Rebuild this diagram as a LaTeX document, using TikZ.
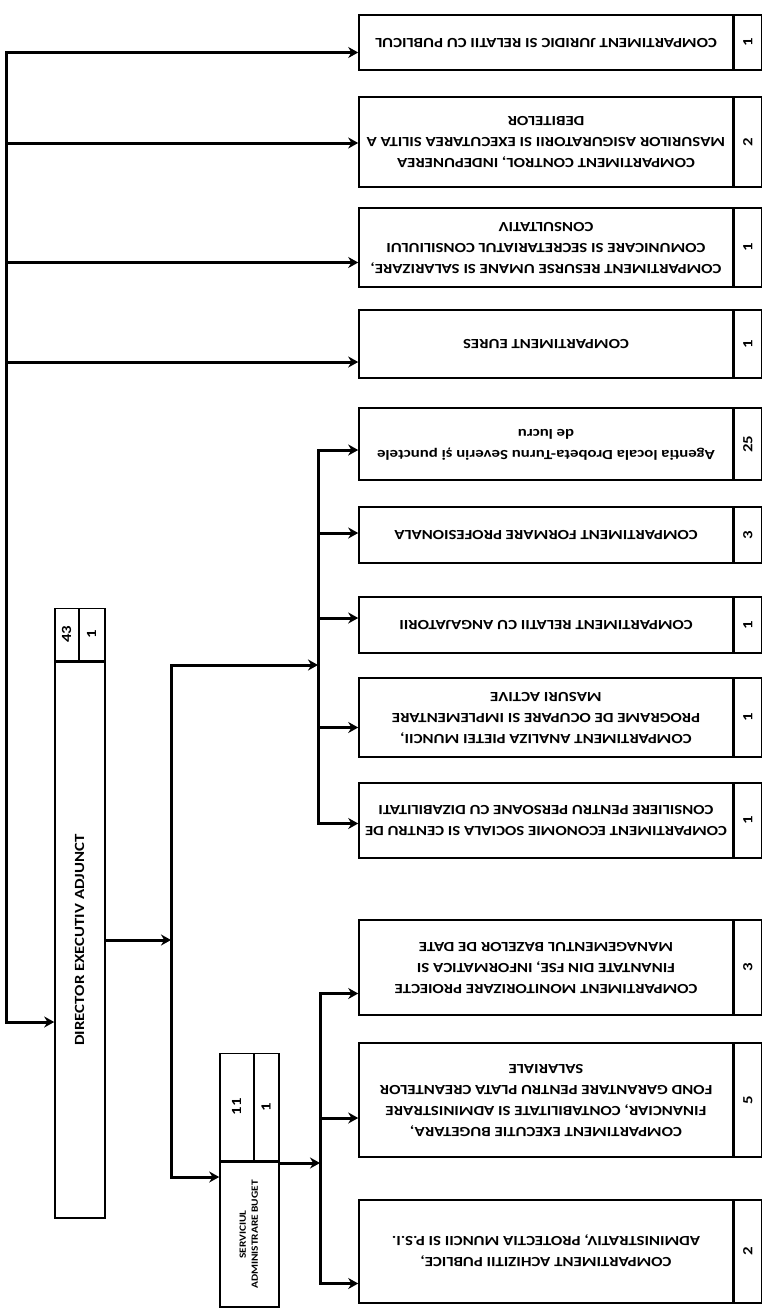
\documentclass[tikz,border=0pt]{standalone}
\usepackage{fontspec}
\setmainfont{Carlito}[FakeStretch=1.2]
\usepackage{graphicx}
\usetikzlibrary{arrows.meta, positioning, calc}

% text turned upside down / sideways, as on the scanned sheet
\newcommand{\flipt}[1]{\rotatebox[origin=c]{180}{\begin{tabular}{@{}c@{}}#1\end{tabular}}}
\newcommand{\turnt}[1]{\rotatebox[origin=c]{90}{\begin{tabular}{@{}c@{}}#1\end{tabular}}}

\tikzset{
  unit/.style={draw, line width=1.6pt, inner sep=0pt, align=center, font=\bfseries\fontsize{14}{21}\selectfont},
  nrcell/.style={unit, minimum width=27pt, anchor=west},
  link/.style={line width=3pt, line cap=rect},
  arr/.style={link, -{Stealth[length=10pt,width=11pt]}},
}

\begin{document}
\begin{tikzpicture}[x=1pt, y=-1pt]
  \useasboundingbox (0,0) rectangle (763,1315);

  % compartimente (right column)
  \node[unit, minimum width=374pt, minimum height=55pt] (jur) at (546,42.5) {\flipt{COMPARTIMENT JURIDIC SI RELATII CU PUBLICUL}};
  \node[nrcell, minimum height=55pt] (jurn) at (jur.east) {\turnt{1}};
  \node[unit, minimum width=374pt, minimum height=90pt] (ctl) at (546,142) {\flipt{COMPARTIMENT CONTROL, INDEPUNEREA\\MASURILOR ASIGURATORII SI EXECUTAREA SILITA A\\DEBITELOR}};
  \node[nrcell, minimum height=90pt] (ctln) at (ctl.east) {\turnt{2}};
  \node[unit, minimum width=374pt, minimum height=79pt] (res) at (546,247.5) {\flipt{COMPARTIMENT RESURSE UMANE SI SALARIZARE,\\COMUNICARE SI SECRETARIATUL CONSILIULUI\\CONSULTATIV}};
  \node[nrcell, minimum height=79pt] (resn) at (res.east) {\turnt{1}};
  \node[unit, minimum width=374pt, minimum height=68pt] (eur) at (546,344) {\flipt{COMPARTIMENT EURES}};
  \node[nrcell, minimum height=68pt] (eurn) at (eur.east) {\turnt{1}};
  \node[unit, minimum width=374pt, minimum height=72pt] (age) at (546,444) {\flipt{Agentia locala Drobeta-Turnu Severin și punctele\\de lucru}};
  \node[nrcell, minimum height=72pt] (agen) at (age.east) {\turnt{25}};
  \node[unit, minimum width=374pt, minimum height=56pt] (frm) at (546,535) {\flipt{COMPARTIMENT FORMARE PROFESIONALA}};
  \node[nrcell, minimum height=56pt] (frmn) at (frm.east) {\turnt{3}};
  \node[unit, minimum width=374pt, minimum height=56pt] (ang) at (546,625) {\flipt{COMPARTIMENT RELATII CU ANGAJATORII}};
  \node[nrcell, minimum height=56pt] (angn) at (ang.east) {\turnt{1}};
  \node[unit, minimum width=374pt, minimum height=79pt] (ana) at (546,717.5) {\flipt{COMPARTIMENT ANALIZA PIETEI MUNCII,\\PROGRAME DE OCUPARE SI IMPLEMENTARE\\MASURI ACTIVE}};
  \node[nrcell, minimum height=79pt] (anan) at (ana.east) {\turnt{1}};
  \node[unit, minimum width=374pt, minimum height=75pt] (eco) at (546,820.5) {\flipt{COMPARTIMENT ECONOMIE SOCIALA SI CENTRU DE\\CONSILIERE PENTRU PERSOANE CU DIZABILITATI}};
  \node[nrcell, minimum height=75pt] (econ) at (eco.east) {\turnt{1}};
  \node[unit, minimum width=374pt, minimum height=95pt] (mon) at (546,967.5) {\flipt{COMPARTIMENT MONITORIZARE PROIECTE\\FINANTATE DIN FSE, INFORMATICA SI\\MANAGEMENTUL BAZELOR DE DATE}};
  \node[nrcell, minimum height=95pt] (monn) at (mon.east) {\turnt{3}};
  \node[unit, minimum width=374pt, minimum height=114pt] (bug) at (546,1100) {\flipt{COMPARTIMENT EXECUTIE BUGETARA,\\FINANCIAR, CONTABILITATE SI ADMINISTRARE\\FOND GARANTARE PENTRU PLATA CREANTELOR\\SALARIALE}};
  \node[nrcell, minimum height=114pt] (bugn) at (bug.east) {\turnt{5}};
  \node[unit, minimum width=374pt, minimum height=103pt] (ach) at (546,1251.5) {\flipt{COMPARTIMENT ACHIZITII PUBLICE,\\ADMINISTRATIV, PROTECTIA MUNCII SI P.S.I.}};
  \node[nrcell, minimum height=103pt] (achn) at (ach.east) {\turnt{2}};

  % director executiv adjunct
  \node[unit, minimum width=50pt, minimum height=556pt] (dir) at (80,940) {\turnt{DIRECTOR EXECUTIV ADJUNCT}};
  \node[unit, minimum width=24pt, minimum height=52pt, anchor=south west] (dira) at (dir.north west) {\turnt{43}};
  \node[unit, minimum width=26pt, minimum height=52pt, anchor=south east] (dirb) at (dir.north east) {\turnt{1}};

  % serviciul administrare buget
  \node[unit, minimum width=59pt, minimum height=145pt, font=\bfseries\fontsize{9.5}{12}\selectfont] (srv) at (249.5,1234.5) {\turnt{SERVICIUL\\ADMINISTRARE BUGET}};
  \node[unit, minimum width=34pt, minimum height=107pt, anchor=south west] (srva) at (srv.north west) {\turnt{11}};
  \node[unit, minimum width=25pt, minimum height=107pt, anchor=south east] (srvb) at (srv.north east) {\turnt{1}};

  % bracket points
  \coordinate (sp) at (6,1022);
  \coordinate (mb) at (171,665);
  \coordinate (mbb) at (171,1177);
  \coordinate (ub) at (318,665);
  \coordinate (lb) at (320,1163);

  % main line
  \draw[link] ([yshift=-10pt]jur.west -| sp) -- (sp);
  \foreach \b/\d in {jur/10,ctl/1,res/15,eur/18}
    \draw[arr] ([yshift=-\d pt]\b.west -| sp) -- ([yshift=-\d pt]\b.west);
  \draw[arr] (sp) -- (sp -| dir.west);

  % under the director
  \draw[link] (mb) -- (mbb);
  \draw[arr] (dir.east) -- (dir.east -| mb);
  \draw[arr] (mbb) -- (mbb -| srv.west);
  \draw[arr] (mb) -- (ub);
  \draw[link] ([yshift=-6pt]age.west -| ub) -- ([yshift=-3pt]eco.west -| ub);
  \foreach \b/\d in {age/6,frm/-2,ang/-7,ana/10,eco/3}
    \draw[arr] ([yshift=-\d pt]\b.west -| ub) -- ([yshift=-\d pt]\b.west);

  % under the serviciu
  \draw[arr] (lb -| srv.east) -- (lb);
  \draw[link] ([yshift=-26pt]mon.west -| lb) -- ([yshift=-32pt]ach.west -| lb);
  \foreach \b/\d in {mon/26,bug/18,ach/32}
    \draw[arr] ([yshift=-\d pt]\b.west -| lb) -- ([yshift=-\d pt]\b.west);
\end{tikzpicture}
\end{document}
